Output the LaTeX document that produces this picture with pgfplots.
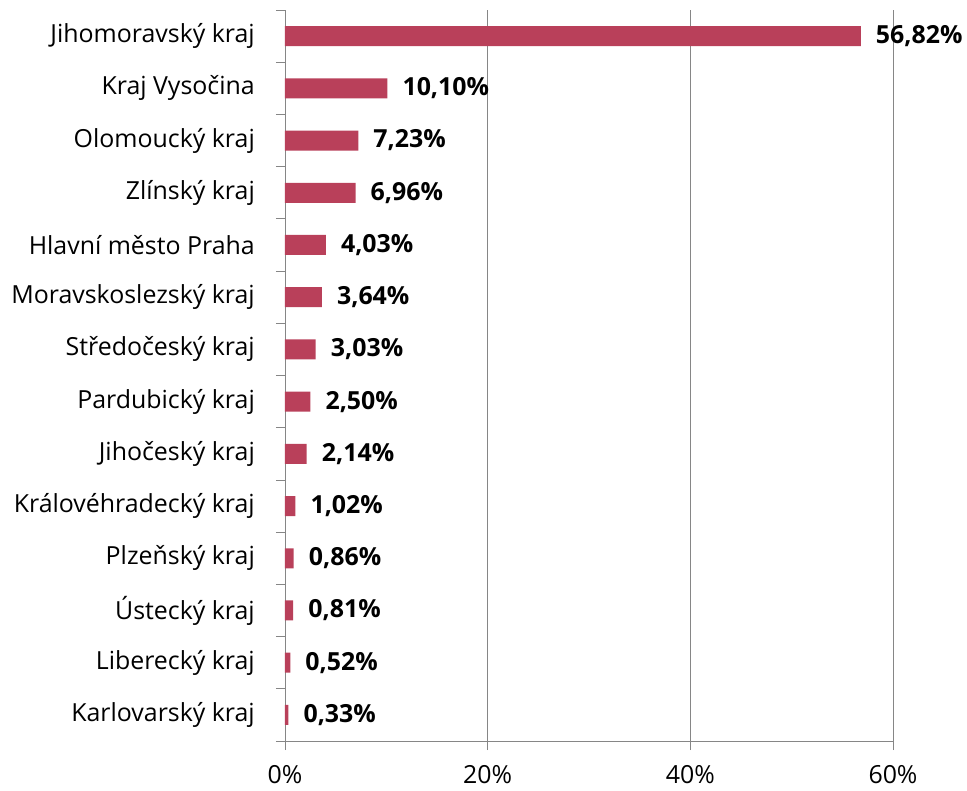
\documentclass[border=0pt]{standalone}
\usepackage{pgfplots}
\pgfplotsset{compat=1.18}
\usepackage{fontspec}
\setmainfont{Open Sans}
\definecolor{barred}{RGB}{185,64,90}
\definecolor{axgray}{RGB}{134,134,134}
\begin{document}
\begin{tikzpicture}
\begin{axis}[
  name=ax, at={(0,0)}, anchor=south west,
  scale only axis, width=608bp, height=731bp,
  xbar, bar width=20bp,
  xmin=0, xmax=60,
  ymin=-0.5, ymax=13.5, y dir=reverse,
  axis x line*=bottom, axis y line*=left,
  axis line style={axgray, line width=0.8bp, -},
  xtick={0,20,40,60},
  xticklabels={0\%,20\%,40\%,60\%},
  xmajorgrids, grid style={axgray, line width=0.8bp},
  ytick={-0.5,0.5,...,13.5},
  yticklabels={},
  extra y ticks={0,...,13},
  extra y tick labels={Jihomoravský kraj,Kraj Vysočina,Olomoucký kraj,Zlínský kraj,Hlavní město Praha,Moravskoslezský kraj,Středočeský kraj,Pardubický kraj,Jihočeský kraj,Královéhradecký kraj,Plzeňský kraj,Ústecký kraj,Liberecký kraj,Karlovarský kraj},
  extra y tick style={major tick length=0pt, tick style={draw=none},
    yticklabel style={inner sep=0pt, xshift=-30bp}},
  tick align=outside,
  major tick length=9bp,
  tick style={axgray, line width=0.8bp},
  tick label style={font=\fontsize{25}{30}\selectfont, text=black},
  xticklabel style={inner sep=0pt, yshift=-15bp},
  nodes near coords={\pgfmathprintnumber[fixed,fixed zerofill,precision=2,use comma]{\pgfplotspointmeta}\%},
  nodes near coords style={font=\fontsize{25}{30}\selectfont\bfseries, anchor=west, inner sep=0pt, xshift=15bp,
    /pgf/number format/assume math mode=true},
  clip=false,
]
\addplot[fill=barred, draw=none] coordinates {
  (56.82,0) (10.10,1) (7.23,2) (6.96,3) (4.03,4) (3.64,5) (3.03,6)
  (2.50,7) (2.14,8) (1.02,9) (0.86,10) (0.81,11) (0.52,12) (0.33,13)};
\end{axis}
\pgfresetboundingbox
\useasboundingbox (-285bp,-50bp) rectangle (682bp,741bp);
\end{tikzpicture}
\end{document}
